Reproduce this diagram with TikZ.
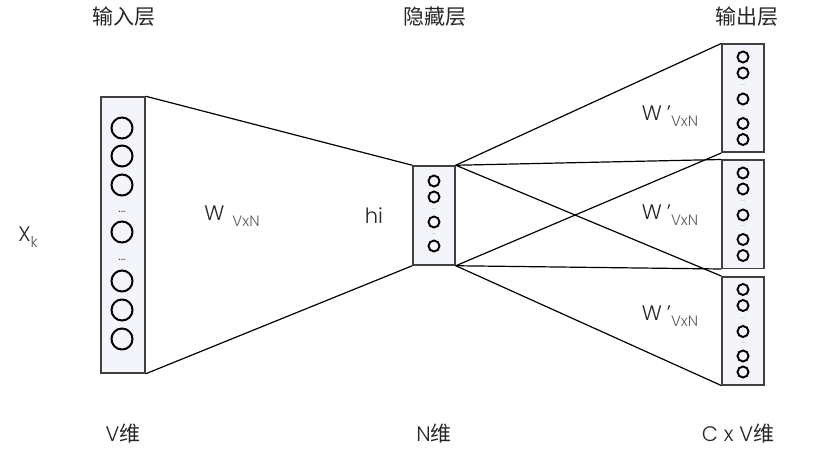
\documentclass[tikz,border=0pt]{standalone}
\usepackage{fontspec}
\setmainfont{Poppins}[UprightFont=* Light]
\newfontfamily\cjk{Noto Sans CJK SC}
\usetikzlibrary{positioning}
\definecolor{boxfill}{HTML}{F4F5FA}
\definecolor{boxedge}{HTML}{404040}
\definecolor{txtgray}{HTML}{262626}
\definecolor{subgray}{HTML}{5E5E5E}
\definecolor{dotgray}{HTML}{8A8A8A}
\newcommand{\subtxt}[1]{\raisebox{-6pt}{\fontsize{15}{17}\selectfont\color{subgray}#1}}
\tikzset{
  layerbox/.style={draw=boxedge, fill=boxfill, line width=1.5pt, inner sep=0pt},
  bigunit/.style={circle, draw=black, line width=2pt, minimum size=21pt, inner sep=0pt},
  smallunit/.style={circle, draw=black, line width=1.9pt, minimum size=11pt, inner sep=0pt},
  bigdots/.style={font=\fontsize{13}{13}\selectfont, text=txtgray, inner sep=0pt},
  smalldots/.style={font=\fontsize{7}{7}\selectfont, text=dotgray, inner sep=0pt},
  link/.style={draw=black, line width=1.2pt},
  layertitle/.style={font=\cjk\fontsize{21}{24}\selectfont, text=txtgray, inner sep=0pt},
  dimlabel/.style={font=\fontsize{21}{24}\selectfont, text=txtgray, inner sep=0pt},
  weightlabel/.style={font=\fontsize{21}{24}\selectfont, text=txtgray, inner sep=0pt},
}
\begin{document}
\begin{tikzpicture}[x=1pt, y=-1pt]
  \useasboundingbox (0,0) rectangle (822,449);

  % layers
  \node[layerbox, minimum width=44pt, minimum height=276pt] (inp) at (123,235) {};
  \node[layerbox, minimum width=42pt, minimum height=99pt] (hid) at (434,215.5) {};
  \foreach \k/\top in {1/43.5, 2/159.5, 3/276}
    \node[layerbox, minimum width=42pt, minimum height=108pt, anchor=north] (out\k) at (743,\top) {};

  % connections
  \draw[link] (inp.north east) -- (hid.north west);
  \draw[link] (inp.south east) -- (hid.south west);
  \foreach \k in {1,2,3} {
    \draw[link] (hid.north east) -- (out\k.north west);
    \draw[link] (hid.south east) -- (out\k.south west);
  }

  % units
  \foreach \y [count=\i] in {128,156,185,232,281,310,339}
    \node[bigunit] (in\i) at (122,\y) {};
  \foreach \y in {212,260}
    \node[bigdots] at (122,\y) {...};
  \foreach \y [count=\i] in {181,197,222,246}
    \node[smallunit] (h\i) at (434,\y) {};
  \foreach \y in {209,234}
    \node[smalldots] at (434,\y) {...};
  \foreach \k/\top in {1/43.5, 2/159.5, 3/276} {
    \foreach \dy [count=\i] in {13.5,29.5,55.5,80,96}
      \node[smallunit] (o\k u\i) at (743,\top+\dy) {};
    \foreach \dy in {42,67}
      \node[smalldots] at (743,\top+\dy) {...};
  }

  % titles
  \node[layertitle] (tin) at (124,17) {输入层};
  \node[layertitle] (thid) at (435,17) {隐藏层};
  \node[layertitle] (tout) at (747,17) {输出层};
  \node[dimlabel] (vdim) at (123,434) {V{\cjk 维}};
  \node[dimlabel] (ndim) at (434,434) {N{\cjk 维}};
  \node[dimlabel] (cvdim) at (738,434) {C x V{\cjk 维}};

  % labels
  \node[weightlabel] (xk) at (28,237) {X\subtxt{k}};
  \node[weightlabel] (win) at (232,216) {W\hspace{8pt}\subtxt{VxN}};
  \node[weightlabel] (hi) at (374,216) {hi};
  \node[weightlabel] (wout1) at (670,116) {W\hspace{5pt}’\subtxt{VxN}};
  \node[weightlabel] (wout2) at (670,215) {W\hspace{5pt}’\subtxt{VxN}};
  \node[weightlabel] (wout3) at (670,316) {W\hspace{5pt}’\subtxt{VxN}};
\end{tikzpicture}
\end{document}
